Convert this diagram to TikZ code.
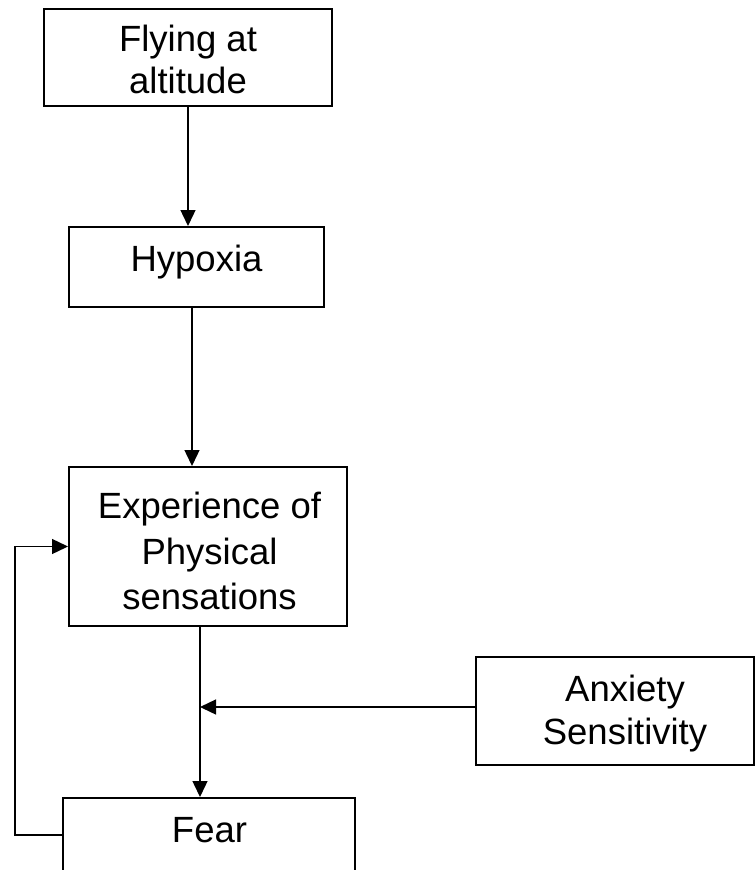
\documentclass[tikz,border=0pt]{standalone}
\usepackage{fontspec}
\setmainfont{Liberation Sans}
\usetikzlibrary{arrows.meta}
\begin{document}
\begin{tikzpicture}[x=1pt,y=-1pt,
  boxnode/.style={draw=black, line width=2pt, rectangle, inner sep=0pt},
  txt/.style={align=center, inner sep=0pt, font=\fontsize{36.5}{43}\selectfont},
  arr/.style={line width=1.4pt, -{Triangle[length=16pt,width=15pt]}}]
\clip (0,0) rectangle (755,870);
% boxes
\node[boxnode, minimum width=288pt, minimum height=97pt] (b1) at (188,57.5) {};
\node[boxnode, minimum width=255pt, minimum height=80pt] (b2) at (196.5,267) {};
\node[boxnode, minimum width=278pt, minimum height=159pt] (b3) at (208,546.5) {};
\node[boxnode, minimum width=278pt, minimum height=108pt] (b4) at (615,711) {};
\node[boxnode, minimum width=292pt, minimum height=102pt] (b5) at (209,849) {};
% texts
\node[txt, font=\fontsize{36.5}{42}\selectfont] (t1) at (188,59) {Flying at\\altitude};
\node[txt] (t2) at (196.5,262) {Hypoxia};
\node[txt, font=\fontsize{36.5}{45.5}\selectfont] (t3) at (209.5,551) {Experience of\\Physical\\sensations};
\node[txt] (t4) at (625,714) {Anxiety\\Sensitivity};
\node[txt] (t5) at (209.5,830) {Fear};
% junction on the Experience -> Fear line
\coordinate (j) at (200,707);
% connectors
\draw[arr] (b1.south) -- (b1.south |- b2.north);
\draw[arr] ([xshift=-4.5pt]b2.south) -- ([xshift=-4.5pt]b2.south |- b3.north);
\draw[arr] (b3.south -| j) -- (b5.north -| j);
\draw[arr] ([yshift=4pt]b4.west) -- (j);
\draw[arr] ([yshift=14pt]b5.west) -- ++(-47,0) |- (b3.west);
\end{tikzpicture}
\end{document}
